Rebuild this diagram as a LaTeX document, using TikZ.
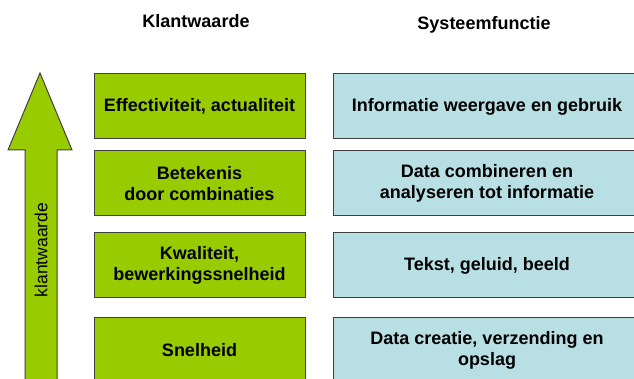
\documentclass[tikz,border=0pt]{standalone}
\usepackage{fontspec}
\setmainfont{Liberation Sans}
\definecolor{waardegroen}{HTML}{99CC00}
\definecolor{functieblauw}{HTML}{B8DFE3}
\definecolor{rand}{HTML}{404040}

\begin{document}
\begin{tikzpicture}[x=1pt,y=1pt,
    waarde/.style={draw=rand, fill=waardegroen, line width=1pt,
        minimum width=211pt, minimum height=65pt, inner sep=0pt,
        align=center, font=\bfseries\fontsize{18}{21.5}\selectfont},
    functie/.style={waarde, fill=functieblauw, minimum width=308pt},
    kop/.style={font=\bfseries\fontsize{18}{21.5}\selectfont}
]
\useasboundingbox (0,0) rectangle (634,379);

% Headers
\node[kop] (kopwaarde) at (196,358) {Klantwaarde};
\node[kop] (kopfunctie) at (484,354.5) {Systeemfunctie};

% Arrow
\draw[draw=rand, fill=waardegroen, line width=1pt]
    (40,306) -- (72,229) -- (57,229) -- (57,-10) -- (25,-10)
    -- (25,229) -- (8,229) -- cycle;
\node[rotate=90, font=\fontsize{17.5}{21}\selectfont] (pijltekst) at (41,129) {klantwaarde};

% Klantwaarde
\node[waarde] (effect) at (199.5,272.5) {Effectiviteit, actualiteit};
\node[waarde] (betekenis) at (199.5,195.5) {Betekenis\\door combinaties};
\node[waarde] (kwaliteit) at (199.5,113.5) {Kwaliteit,\\bewerkingssnelheid};
\node[waarde] (snelheid) at (199.5,28.5) {Snelheid};

% Systeemfunctie
\node[functie] (weergave) at (487,272.5) {Informatie weergave en gebruik};
\node[functie] (combineren) at (487,195.5) {Data combineren en\\analyseren tot informatie};
\node[functie] (tekst) at (487,113.5) {Tekst, geluid, beeld};
\node[functie] (creatie) at (487,28.5) {Data creatie, verzending en\\opslag};

\end{tikzpicture}
\end{document}
